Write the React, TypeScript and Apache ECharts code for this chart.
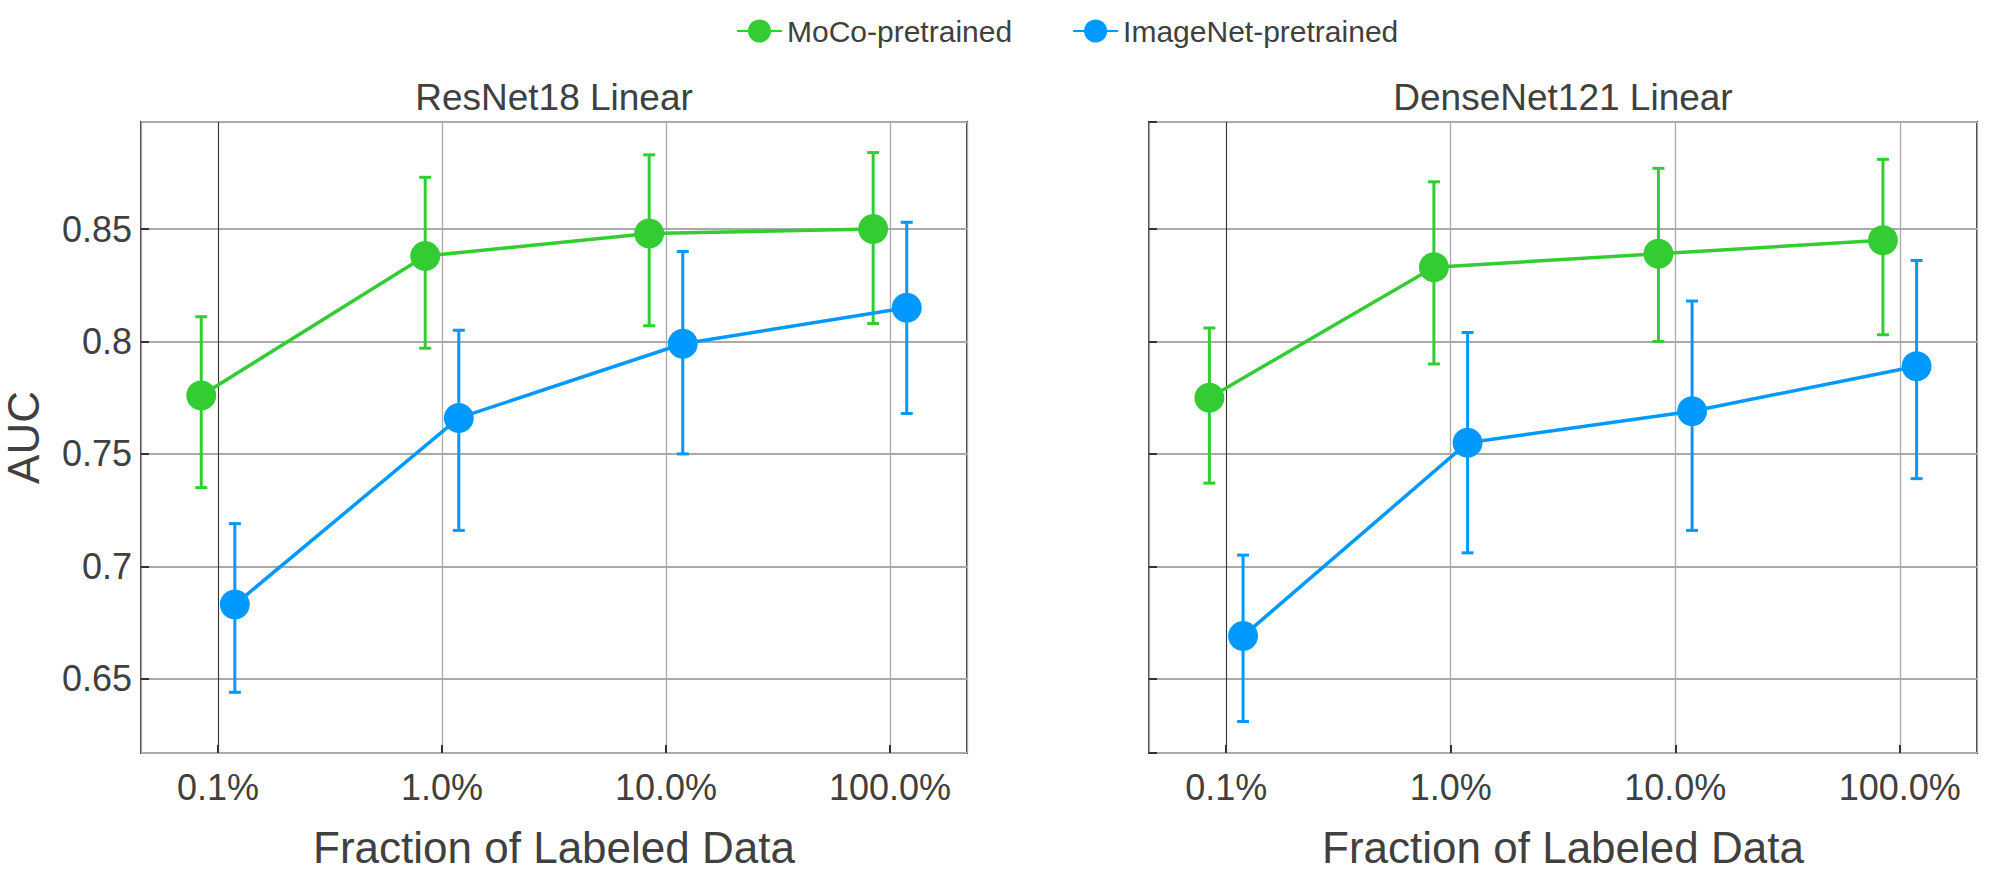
import React, { useEffect, useRef } from 'react';
import * as echarts from 'echarts';

// ---- data ----
const FRACTIONS = [0.1, 1, 10, 100];
const PANEL_TITLES = ['ResNet18 Linear', 'DenseNet121 Linear'];
const SERIES_NAMES = ['MoCo-pretrained', 'ImageNet-pretrained'];
const X_AXIS_NAME = 'Fraction of Labeled Data';
const Y_AXIS_NAME = 'AUC';

const resnetMoco = [0.776, 0.838, 0.848, 0.85];
const resnetMocoLow = [0.735, 0.797, 0.807, 0.808];
const resnetMocoHigh = [0.811, 0.873, 0.883, 0.884];
const resnetImagenet = [0.683, 0.766, 0.799, 0.815];
const resnetImagenetLow = [0.644, 0.716, 0.75, 0.768];
const resnetImagenetHigh = [0.719, 0.805, 0.84, 0.853];

const densenetMoco = [0.775, 0.833, 0.839, 0.845];
const densenetMocoLow = [0.737, 0.79, 0.8, 0.803];
const densenetMocoHigh = [0.806, 0.871, 0.877, 0.881];
const densenetImagenet = [0.669, 0.755, 0.769, 0.789];
const densenetImagenetLow = [0.631, 0.706, 0.716, 0.739];
const densenetImagenetHigh = [0.705, 0.804, 0.818, 0.836];

// ---- style ----
const GREEN = '#33cc33';
const BLUE = '#0099ff';
const TEXT = '#404040';
const FONT = '"Liberation Sans", Arial, sans-serif';
const DODGE = 0.075; // decades of horizontal dodge per series
const X_MIN = Math.pow(10, -1.344);
const X_MAX = Math.pow(10, 2.344);
const Y_MIN = 0.617;
const Y_MAX = 0.8976;

const panels = [
  {
    moco: [resnetMoco, resnetMocoLow, resnetMocoHigh],
    imagenet: [resnetImagenet, resnetImagenetLow, resnetImagenetHigh],
  },
  {
    moco: [densenetMoco, densenetMocoLow, densenetMocoHigh],
    imagenet: [densenetImagenet, densenetImagenetLow, densenetImagenetHigh],
  },
];

const grids = [
  { left: 141, top: 122, width: 826, height: 631 },
  { left: 1149, top: 122, width: 828, height: 631 },
];

function errorBarSeries(name: string, color: string, idx: number, dodge: number, vals: number[][], withMark: boolean) {
  const [, lo, hi] = vals;
  const data = FRACTIONS.map((f, i) => [f * Math.pow(10, dodge), lo[i], hi[i]]);
  const s: any = {
    type: 'custom',
    name: name + ' err',
    xAxisIndex: idx,
    yAxisIndex: idx,
    z: 2,
    silent: true,
    encode: { x: 0, y: [1, 2] },
    data,
    renderItem: (params: any, api: any) => {
      const x = api.value(0);
      const top = api.coord([x, api.value(2)]);
      const bot = api.coord([x, api.value(1)]);
      const half = 6;
      const st = { stroke: color, lineWidth: 3 };
      return {
        type: 'group',
        children: [
          { type: 'line', shape: { x1: top[0], y1: top[1], x2: bot[0], y2: bot[1] }, style: st },
          { type: 'line', shape: { x1: top[0] - half, y1: top[1], x2: top[0] + half, y2: top[1] }, style: st },
          { type: 'line', shape: { x1: bot[0] - half, y1: bot[1], x2: bot[0] + half, y2: bot[1] }, style: st },
        ],
      };
    },
  };
  if (withMark) {
    s.markLine = {
      silent: true,
      symbol: 'none',
      label: { show: false },
      lineStyle: { color: '#333', width: 1, type: 'solid' },
      data: [{ xAxis: FRACTIONS[0] }],
      z: 1,
    };
  }
  return s;
}

function lineSeries(name: string, color: string, idx: number, dodge: number, vals: number[][]) {
  const [mid] = vals;
  return {
    type: 'line',
    name,
    xAxisIndex: idx,
    yAxisIndex: idx,
    z: 3,
    symbol: 'circle',
    symbolSize: 30,
    lineStyle: { color, width: 3.5 },
    itemStyle: { color },
    data: FRACTIONS.map((f, i) => [f * Math.pow(10, dodge), mid[i]]),
  };
}

export default function App() {
  const ref = useRef<HTMLDivElement>(null);
  useEffect(() => {
    const chart = echarts.init(ref.current!, null, { renderer: 'svg' });
    const xAxes = grids.map((_, i) => ({
      type: 'log',
      logBase: 10,
      gridIndex: i,
      min: X_MIN,
      max: X_MAX,
      name: X_AXIS_NAME,
      nameLocation: 'middle',
      nameGap: 72,
      nameTextStyle: { fontSize: 44, color: TEXT, fontFamily: FONT },
      axisLine: { show: false },
      axisTick: { show: true, inside: true, length: 8, lineStyle: { color: '#333', width: 2 } },
      axisLabel: {
        show: true,
        margin: 16,
        fontSize: 36,
        color: TEXT,
        fontFamily: FONT,
        showMinLabel: false,
        showMaxLabel: false,
        formatter: (v: number) => {
          const l = Math.log10(v);
          if (Math.abs(l - Math.round(l)) > 1e-6) return '';
          return v.toFixed(1) + '%';
        },
      },
      splitLine: { show: true, lineStyle: { color: '#aaaaaa', width: 1.3 } },
    }));
    const yAxes = grids.map((_, i) => ({
      type: 'value',
      gridIndex: i,
      min: Y_MIN,
      max: Y_MAX,
      splitNumber: 5,
      name: i === 0 ? Y_AXIS_NAME : '',
      nameLocation: 'middle',
      nameGap: 96,
      nameTextStyle: { fontSize: 44, color: TEXT, fontFamily: FONT },
      axisLine: { show: false },
      axisTick: { show: true, inside: true, length: 8, lineStyle: { color: '#333', width: 2 } },
      axisLabel: {
        show: i === 0,
        margin: 9,
        fontSize: 36,
        color: TEXT,
        fontFamily: FONT,
        showMinLabel: false,
        showMaxLabel: false,
        formatter: (v: number) => {
          if (Math.abs(v * 20 - Math.round(v * 20)) > 1e-6) return '';
          return String(parseFloat(v.toFixed(2)));
        },
      },
      splitLine: { show: true, lineStyle: { color: '#aaaaaa', width: 2 } },
    }));

    const series: any[] = [];
    panels.forEach((p, i) => {
      series.push(errorBarSeries(SERIES_NAMES[0], GREEN, i, -DODGE, p.moco, true));
      series.push(errorBarSeries(SERIES_NAMES[1], BLUE, i, DODGE, p.imagenet, false));
    });
    panels.forEach((p, i) => {
      series.push(lineSeries(SERIES_NAMES[0], GREEN, i, -DODGE, p.moco));
      series.push(lineSeries(SERIES_NAMES[1], BLUE, i, DODGE, p.imagenet));
    });

    const option: any = {
      animation: false,
      backgroundColor: '#ffffff',
      textStyle: { fontFamily: FONT },
      title: PANEL_TITLES.map((t, i) => ({
        text: t,
        left: grids[i].left + grids[i].width / 2,
        top: 79,
        textAlign: 'center',
        padding: 0,
        textStyle: { fontSize: 37, fontWeight: 'normal', color: TEXT, fontFamily: FONT },
      })),
      legend: {
        data: SERIES_NAMES,
        left: 736,
        top: 16,
        padding: 0,
        orient: 'horizontal',
        itemWidth: 45,
        itemHeight: 29,
        itemGap: 60,
        textStyle: { fontSize: 30, color: TEXT, fontFamily: FONT },
      },
      grid: grids.map((g) => ({
        ...g,
        show: true,
        borderColor: '#404040',
        borderWidth: 2,
        backgroundColor: 'transparent',
        containLabel: false,
      })),
      xAxis: xAxes,
      yAxis: yAxes,
      series,
    };
    chart.setOption(option);
    return () => chart.dispose();
  }, []);
  return (
    <div
      ref={ref}
      style={{ position: 'fixed', left: 0, top: 0, width: 2008, height: 880, background: '#fff' }}
    />
  );
}
